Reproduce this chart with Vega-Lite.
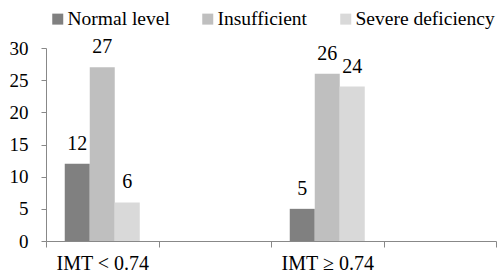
{
  "$schema": "https://vega.github.io/schema/vega-lite/v6.json",
  "width": 450,
  "height": 193,
  "autosize": "none",
  "padding": {"left": 46, "top": 48, "right": 2, "bottom": 36},
  "config": {
    "font": "Liberation Serif",
    "view": {"stroke": null},
    "axis": {"grid": false, "domainColor": "#888888", "tickColor": "#888888", "labelColor": "#000000", "labelFont": "Liberation Serif"},
    "legend": {"labelFont": "Liberation Serif"},
    "text": {"font": "Liberation Serif"}
  },
  "data": {
    "values": [
      {"group": "IMT < 0.74", "level": "Normal level", "count": 12},
      {"group": "IMT < 0.74", "level": "Insufficient", "count": 27},
      {"group": "IMT < 0.74", "level": "Severe deficiency", "count": 6},
      {"group": "IMT ≥ 0.74", "level": "Normal level", "count": 5},
      {"group": "IMT ≥ 0.74", "level": "Insufficient", "count": 26},
      {"group": "IMT ≥ 0.74", "level": "Severe deficiency", "count": 24}
    ]
  },
  "encoding": {
    "x": {
      "field": "group",
      "type": "nominal",
      "scale": {"domain": ["IMT < 0.74", "gap1", "IMT ≥ 0.74", "gap2"], "paddingInner": 0, "paddingOuter": 0},
      "axis": {
        "title": null,
        "labelAngle": 0,
        "labelFontSize": 20,
        "tickBand": "extent",
        "tickSize": 6,
        "labelPadding": 6,
        "labelExpr": "datum.value == 'gap1' || datum.value == 'gap2' ? '' : datum.label"
      }
    },
    "xOffset": {
      "field": "level",
      "type": "nominal",
      "scale": {"domain": ["Normal level", "Insufficient", "Severe deficiency"], "paddingInner": 0, "paddingOuter": 0.75}
    },
    "y": {
      "field": "count",
      "type": "quantitative",
      "scale": {"domain": [0, 30]},
      "axis": {
        "title": null,
        "values": [0, 5, 10, 15, 20, 25, 30],
        "labelFontSize": 19,
        "tickSize": 5,
        "labelPadding": 13
      }
    }
  },
  "layer": [
    {
      "mark": {"type": "bar"},
      "encoding": {
        "color": {
          "field": "level",
          "type": "nominal",
          "scale": {"domain": ["Normal level", "Insufficient", "Severe deficiency"], "range": ["#808080", "#bfbfbf", "#d9d9d9"]},
          "legend": {
            "orient": "none",
            "legendX": 2,
            "legendY": -39,
            "padding": 0,
            "direction": "horizontal",
            "title": null,
            "symbolType": "square",
            "symbolSize": 121,
            "symbolStrokeWidth": 0,
            "labelFontSize": 19.5,
            "labelColor": "#000000",
            "labelOffset": 0,
            "columnPadding": 28
          }
        }
      }
    },
    {
      "mark": {"type": "text", "dy": -14, "baseline": "alphabetic", "fontSize": 20, "color": "#000000"},
      "encoding": {"text": {"field": "count", "type": "quantitative"}}
    }
  ]
}
